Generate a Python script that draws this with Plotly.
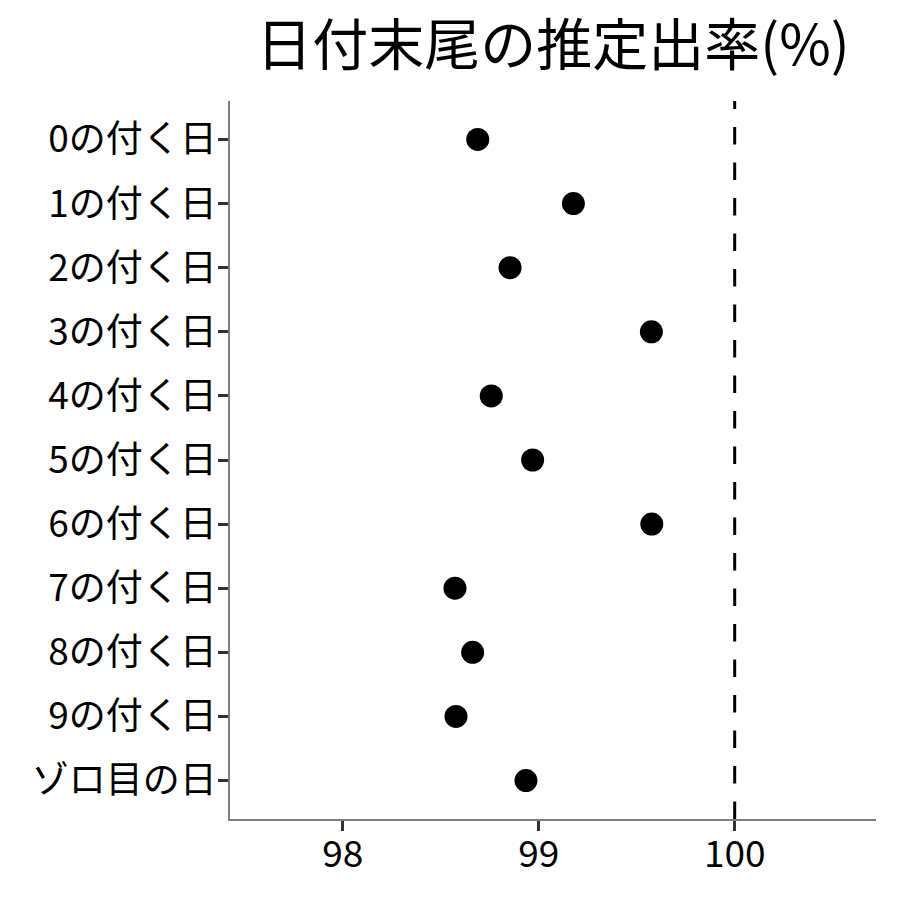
import plotly.graph_objects as go

categories = ["0の付く日", "1の付く日", "2の付く日", "3の付く日", "4の付く日",
              "5の付く日", "6の付く日", "7の付く日", "8の付く日", "9の付く日", "ゾロ目の日"]
rates = [98.689, 99.177, 98.854, 99.575, 98.758, 98.969, 99.577, 98.573, 98.663, 98.578, 98.935]
x_ticks = [98, 99, 100]
reference_value = 100
title_text = "日付末尾の推定出率(%)"

FONT = "Noto Sans CJK JP"
W = H = 892  # page adds an 8px body margin

fig = go.Figure()
fig.add_trace(go.Scatter(
    x=rates, y=categories, mode="markers",
    marker=dict(color="black", size=23, line=dict(width=0)),
    showlegend=False, hoverinfo="x+y",
))

fig.add_shape(type="line", xref="x", yref="paper",
              x0=reference_value, x1=reference_value, y0=0, y1=1,
              line=dict(color="black", width=3, dash="17.5px,18px"))

n = len(categories)
fig.update_layout(
    width=W, height=H,
    margin=dict(l=222, r=24, t=92.5, b=80.5, autoexpand=False),
    paper_bgcolor="white", plot_bgcolor="white",
    font=dict(family=FONT, color="black"),
    title=dict(text=title_text, x=0.5, xref="paper", xanchor="center",
               y=1 - 37 / H, yanchor="middle",
               font=dict(family=FONT, size=56, color="black")),
    xaxis=dict(range=[97.425, 100.721], tickvals=x_ticks,
               ticktext=[str(v) for v in x_ticks],
               showgrid=False, zeroline=False,
               showline=True, linecolor="#7f7f7f", linewidth=1.5,
               ticks="outside", ticklen=10, tickwidth=3, tickcolor="#333333",
               ticklabelstandoff=-8,
               tickfont=dict(family=FONT, size=37, color="black")),
    yaxis=dict(categoryorder="array", categoryarray=categories[::-1],
               range=[-0.6, n - 0.4],
               showgrid=False, zeroline=False,
               showline=True, linecolor="#7f7f7f", linewidth=1.5,
               ticks="outside", ticklen=10, tickwidth=3, tickcolor="#333333",
               ticklabelstandoff=-6,
               tickfont=dict(family=FONT, size=37, color="black")),
)

fig.write_html("out.html")
